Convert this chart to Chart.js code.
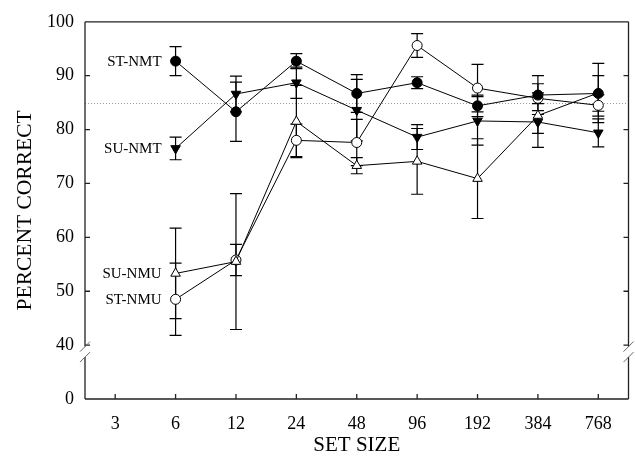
<!DOCTYPE html>
<html>
<head>
<meta charset="utf-8">
<script src="https://cdn.jsdelivr.net/npm/chart.js@4"></script>
<style>
  body { margin: 0; background: #fff; }
  canvas { display: block; }
</style>
</head>
<body>
<canvas id="chart" width="635" height="463"></canvas>
<script>
// set sizes on the x axis
const setSizes = ['3', '6', '12', '24', '48', '96', '192', '384', '768'];

// y tick labels (0 sits below the axis break)
const yTicks = [0, 40, 50, 60, 70, 80, 90, 100];
const BREAK_ZERO = 30; // internal value where "0" is drawn

// percent correct, with error bar half-lengths
const stNmt = [null, 92.7, 83.3, 92.7, 86.7, 88.7, 84.4, 86.4, 86.7];
const stNmtErr = [null, 2.7, 5.5, 1.4, 3.5, 1.1, 2.0, 3.6, 3.3];
const suNmt = [null, 76.5, 86.6, 88.7, 83.6, 78.6, 81.6, 81.4, 79.4];
const suNmtErr = [null, 2.1, 3.3, 2.9, 5.7, 2.3, 4.5, 2.1, 2.6];
const suNmu = [null, 53.3, 55.5, 81.5, 73.3, 74.1, 70.9, 82.6, 86.8];
const suNmuErr = [null, 8.4, 12.6, 6.7, 1.5, 6.1, 7.4, 5.9, 5.5];
const stNmu = [null, 48.5, 55.8, 78.0, 77.6, 95.6, 87.7, 85.8, 84.5];
const stNmuErr = [null, 6.7, 2.9, 3.0, 4.3, 2.2, 4.4, 1.0, 2.0];

const criterion = 85; // dotted reference line

const SERIF = '"Liberation Serif", "Times New Roman", serif';

function series(label, data, err, style, filled, rotation) {
  return {
    label: label,
    data: data,
    errors: err,
    borderColor: '#000',
    borderWidth: 1,
    pointStyle: style,
    rotation: rotation || 0,
    pointRadius: style === 'triangle' ? 5.5 : 5,
    pointBackgroundColor: filled ? '#000' : '#fff',
    pointBorderColor: '#000',
    pointBorderWidth: 1,
    fill: false,
    tension: 0
  };
}

// error bars + dotted criterion line, drawn under the lines
const errorBars = {
  id: 'errorBars',
  beforeDatasetsDraw(chart) {
    const ctx = chart.ctx;
    const x = chart.scales.x, y = chart.scales.y;
    const area = chart.chartArea;
    ctx.save();
    ctx.strokeStyle = '#9a9a9a';
    ctx.lineWidth = 1;
    ctx.setLineDash([1, 2]);
    const yc = Math.round(y.getPixelForValue(criterion)) + 0.5;
    ctx.beginPath();
    ctx.moveTo(area.left, yc);
    ctx.lineTo(area.right, yc);
    ctx.stroke();
    ctx.setLineDash([]);

    ctx.strokeStyle = '#000';
    ctx.lineWidth = 1.2;
    chart.data.datasets.forEach(ds => {
      ds.data.forEach((v, i) => {
        if (v === null) return;
        const e = ds.errors[i];
        const px = x.getPixelForValue(i);
        const top = y.getPixelForValue(v + e);
        const bot = y.getPixelForValue(v - e);
        ctx.beginPath();
        ctx.moveTo(px, top); ctx.lineTo(px, bot);
        ctx.moveTo(px - 6, top); ctx.lineTo(px + 6, top);
        ctx.moveTo(px - 6, bot); ctx.lineTo(px + 6, bot);
        ctx.stroke();
      });
    });
    ctx.restore();
  },
  afterDatasetsDraw(chart) {
    // series names beside the first point
    const ctx = chart.ctx;
    ctx.save();
    ctx.fillStyle = '#000';
    ctx.font = '15px ' + SERIF;
    ctx.textAlign = 'right';
    ctx.textBaseline = 'middle';
    chart.data.datasets.forEach((ds, k) => {
      const pt = chart.getDatasetMeta(k).data[1];
      ctx.fillText(ds.label, pt.x - 14, pt.y + 1);
    });
    ctx.restore();
  }
};

// frame with axis breaks and inward ticks
const frame = {
  id: 'frame',
  afterDraw(chart) {
    const ctx = chart.ctx;
    const a = chart.chartArea;
    const x = chart.scales.x, y = chart.scales.y;
    const y40 = y.getPixelForValue(40);
    const gapTop = y40 + 1.5, gapBot = y40 + 12;
    ctx.save();
    ctx.strokeStyle = '#222';
    ctx.lineWidth = 1.3;
    ctx.beginPath();
    // left
    ctx.moveTo(a.left, a.top); ctx.lineTo(a.left, gapTop);
    ctx.moveTo(a.left, gapBot); ctx.lineTo(a.left, a.bottom);
    // right
    ctx.moveTo(a.right, a.top); ctx.lineTo(a.right, gapTop);
    ctx.moveTo(a.right, gapBot); ctx.lineTo(a.right, a.bottom);
    // top, bottom
    ctx.moveTo(a.left, a.top); ctx.lineTo(a.right, a.top);
    ctx.moveTo(a.left, a.bottom); ctx.lineTo(a.right, a.bottom);
    // y ticks
    yTicks.forEach(v => {
      if (v === 0 || v === 100) return;
      const py = y.getPixelForValue(v);
      ctx.moveTo(a.left, py); ctx.lineTo(a.left + 5, py);
      ctx.moveTo(a.right, py); ctx.lineTo(a.right - 5, py);
    });
    // x ticks
    setSizes.forEach((s, i) => {
      const px = x.getPixelForValue(i);
      ctx.moveTo(px, a.bottom); ctx.lineTo(px, a.bottom - 5);
    });
    ctx.stroke();

    // break slashes
    ctx.strokeStyle = '#666';
    ctx.lineWidth = 1;
    ctx.beginPath();
    [a.left, a.right].forEach(ax => {
      ctx.moveTo(ax - 5, gapTop + 5); ctx.lineTo(ax + 5, gapTop - 5);
      ctx.moveTo(ax - 5, gapBot + 5); ctx.lineTo(ax + 5, gapBot - 5);
    });
    ctx.stroke();
    ctx.restore();
  }
};

new Chart(document.getElementById('chart').getContext('2d'), {
  type: 'line',
  data: {
    labels: setSizes,
    datasets: [
      series('ST-NMT', stNmt, stNmtErr, 'circle', true),
      series('SU-NMT', suNmt, suNmtErr, 'triangle', true, 180),
      series('SU-NMU', suNmu, suNmuErr, 'triangle', false),
      series('ST-NMU', stNmu, stNmuErr, 'circle', false)
    ]
  },
  options: {
    responsive: false,
    animation: false,
    layout: { padding: { top: 17, right: 6, left: 0, bottom: 0 } },
    plugins: {
      legend: { display: false },
      tooltip: { enabled: false }
    },
    scales: {
      x: {
        type: 'category',
        offset: true,
        grid: { display: false, drawTicks: false },
        border: { display: false },
        afterFit: s => { s.height = 64; },
        ticks: {
          color: '#000',
          font: { family: SERIF, size: 18 },
          padding: 14,
          maxRotation: 0
        },
        title: {
          display: true,
          text: 'SET SIZE',
          color: '#000',
          font: { family: SERIF, size: 21 },
          padding: { top: 0, bottom: 5 }
        }
      },
      y: {
        min: BREAK_ZERO,
        max: 100,
        grid: { display: false, drawTicks: false },
        border: { display: false },
        afterFit: s => { s.width = 85; },
        afterBuildTicks: s => {
          s.ticks = yTicks.map(v => ({ value: v === 0 ? BREAK_ZERO : v }));
        },
        ticks: {
          color: '#000',
          font: { family: SERIF, size: 18 },
          padding: 11,
          callback: v => (v === BREAK_ZERO ? '0' : String(v))
        },
        title: {
          display: true,
          text: 'PERCENT CORRECT',
          color: '#000',
          font: { family: SERIF, size: 21.5 },
          padding: { top: 12, bottom: 0 }
        }
      }
    }
  },
  plugins: [errorBars, frame]
});
</script>
</body>
</html>
